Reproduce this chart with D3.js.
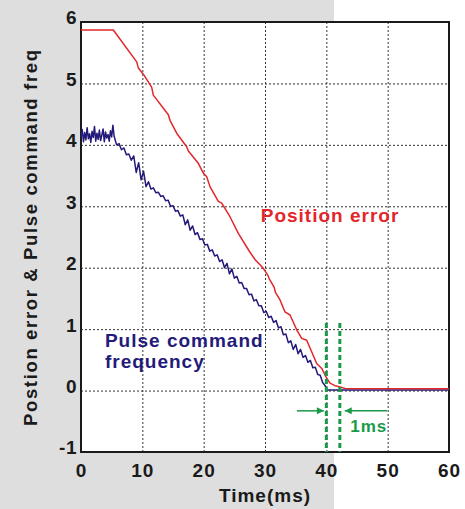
<!DOCTYPE html>
<html><head><meta charset="utf-8">
<script src="https://cdn.jsdelivr.net/npm/d3@7"></script>
<style>
html,body{margin:0;padding:0;background:#fff;}
text{font-family:"Liberation Sans",Arial,sans-serif;font-weight:bold;}
</style></head>
<body>
<svg id="chart" width="465" height="509"></svg>
<script>
// ---- data ----
const xTicks = [0, 10, 20, 30, 40, 50, 60];
const yTicks = [-1, 0, 1, 2, 3, 4, 5, 6];
const xTitle = "Time(ms)";
const yTitle = "Postion error & Pulse command freq";
const seriesNames = ["Position error", "Pulse command", "frequency"];

// Position error (red)
const posT = [0, 5.27, 9.08, 9.35, 10.16, 11.52, 11.79, 14.24, 14.51, 15.6, 17.23, 17.5, 19.13, 19.95, 20.49, 21.03, 22.39, 22.94, 24.29, 25.65, 27.5, 28.4, 29.73, 30.5, 30.7, 31.5, 31.7, 32.45, 33.26, 34.08, 35.17, 35.98, 36.8, 38.43, 39.25, 40.06, 40.6, 41.4, 42.23, 43.05, 60];
const posV = [5.87, 5.87, 5.35, 5.25, 5.15, 4.94, 4.81, 4.49, 4.40, 4.19, 3.97, 3.90, 3.70, 3.54, 3.48, 3.32, 3.08, 3.05, 2.83, 2.56, 2.26, 2.13, 1.99, 1.87, 1.82, 1.68, 1.60, 1.475, 1.28, 1.23, 0.99, 0.85, 0.82, 0.44, 0.36, 0.20, 0.12, 0.08, 0.06, 0.035, 0.03];

// Pulse command frequency (navy)
const pulT = [0, 0.2, 0.4, 0.6, 0.8, 1.0, 1.2, 1.4, 1.6, 1.8, 2.0, 2.2, 2.4, 2.6, 2.8, 3.0, 3.2, 3.4, 3.6, 3.8, 4.0, 4.2, 4.4, 4.6, 4.8, 5.0, 5.2,
  5.4, 5.8, 6.2, 6.6, 7.0, 7.4, 7.8, 8.2, 8.6, 9.0, 9.4, 9.8, 10.2, 10.6, 11.0, 11.4, 11.8, 12.2, 12.6, 13.0, 13.4, 13.8, 14.2, 14.6, 15.0, 15.4, 15.8, 16.2, 16.6, 17.0, 17.4, 17.8, 18.2, 18.6, 19.0, 19.4, 19.8, 20.2, 20.6, 21.0, 21.4, 21.8, 22.2, 22.6, 23.0, 23.4, 23.8, 24.2, 24.6, 25.0, 25.4, 25.8, 26.2, 26.6, 27.0, 27.4, 27.8, 28.2, 28.6, 29.0, 29.4, 29.8, 30.2, 30.6, 31.0, 31.4, 31.8, 32.2, 32.6, 33.0, 33.4, 33.8, 34.2, 34.6, 35.0, 35.4, 35.8, 36.2, 36.6, 37.0, 37.4, 37.8, 38.2, 38.6, 39.0, 39.4, 39.8, 40.1, 60];
const pulV = [4.12, 4.25, 4.05, 4.20, 4.08, 4.28, 4.10, 4.18, 4.04, 4.22, 4.12, 4.30, 4.06, 4.19, 4.09, 4.24, 4.07, 4.16, 4.26, 4.05, 4.21, 4.11, 4.17, 4.06, 4.23, 4.13, 4.32,
  4.14, 4.00, 4.02, 3.92, 3.95, 3.84, 3.85, 3.75, 3.82, 3.55, 3.71, 3.43, 3.57, 3.32, 3.40, 3.28, 3.30, 3.22, 3.23, 3.16, 3.17, 3.09, 3.10, 3.00, 3.01, 2.92, 2.93, 2.84, 2.86, 2.70, 2.78, 2.61, 2.68, 2.54, 2.57, 2.46, 2.47, 2.37, 2.38, 2.27, 2.29, 2.19, 2.21, 2.10, 2.13, 2.00, 2.07, 1.90, 1.98, 1.83, 1.86, 1.75, 1.76, 1.66, 1.66, 1.56, 1.57, 1.46, 1.48, 1.38, 1.38, 1.27, 1.29, 1.19, 1.21, 1.11, 1.14, 1.02, 1.04, 0.91, 0.92, 0.78, 0.81, 0.67, 0.75, 0.60, 0.67, 0.54, 0.57, 0.46, 0.49, 0.37, 0.38, 0.26, 0.25, 0.13, 0.08, 0.01, 0.01];

// annotation markers (ms)
const markerT = [40.0, 42.2];
const markerTop = 1.1;
const annotText = "1ms";

// ---- drawing ----
const svg = d3.select("#chart");
const W = 465, H = 509;
const m = {left: 81, right: 449, top: 22, bottom: 452};

const x = d3.scaleLinear().domain([0, 60]).range([m.left, m.right]);
const y = d3.scaleLinear().domain([-1, 6]).range([m.bottom, m.top]);

// background
svg.append("rect").attr("width", W).attr("height", H).attr("fill", "#fff");
svg.append("rect").attr("x", 0).attr("y", 0).attr("width", 334).attr("height", H).attr("fill", "#dedede");
svg.append("rect").attr("x", m.left).attr("y", m.top).attr("width", m.right - m.left).attr("height", m.bottom - m.top).attr("fill", "#fff");

// grid
const gx = svg.append("g").attr("transform", `translate(0,${m.bottom})`)
  .call(d3.axisBottom(x).tickValues(xTicks.slice(1, -1)).tickSize(-(m.bottom - m.top)).tickFormat(""));
const gy = svg.append("g").attr("transform", `translate(${m.left},0)`)
  .call(d3.axisLeft(y).tickValues(yTicks.slice(1, -1)).tickSize(-(m.right - m.left)).tickFormat(""));
[gx, gy].forEach(g => {
  g.select(".domain").remove();
  g.selectAll("line").attr("stroke", "#333").attr("stroke-width", 1).attr("stroke-dasharray", "2,2");
});

// tick labels via axes
const fmt = d => String(d);
const ax = svg.append("g").attr("transform", `translate(0,${m.bottom})`)
  .call(d3.axisBottom(x).tickValues(xTicks).tickSize(0).tickPadding(0).tickFormat(fmt));
ax.select(".domain").remove();
ax.selectAll("text").attr("dy", null).attr("y", 25).attr("font-size", 19).attr("letter-spacing", 1)
  .attr("fill", "#1a1a1a").style("font-family", "'Liberation Sans',Arial,sans-serif").style("font-weight", "bold");

const ay = svg.append("g").attr("transform", `translate(${m.left},0)`)
  .call(d3.axisLeft(y).tickValues(yTicks).tickSize(0).tickPadding(4).tickFormat(fmt));
ay.select(".domain").remove();
ay.selectAll("text").attr("dy", "0.1em").attr("font-size", 19).attr("letter-spacing", 0.5)
  .attr("fill", "#1a1a1a").style("font-family", "'Liberation Sans',Arial,sans-serif").style("font-weight", "bold");

// frame
svg.append("rect").attr("x", m.left).attr("y", m.top).attr("width", m.right - m.left).attr("height", m.bottom - m.top)
  .attr("fill", "none").attr("stroke", "#1a1a1a").attr("stroke-width", 2);

// lines
const line = d3.line().x(d => x(d[0])).y(d => y(d[1]));
const pul = pulT.map((t, i) => [t, pulV[i]]);
const pos = posT.map((t, i) => [t, posV[i]]);
svg.append("path").datum(pul).attr("d", line).attr("fill", "none").attr("stroke", "#241a7a").attr("stroke-width", 1.5).attr("stroke-linejoin", "round");
svg.append("path").datum(pos).attr("d", line).attr("fill", "none").attr("stroke", "#e3262a").attr("stroke-width", 1.5).attr("stroke-linejoin", "round");

// green markers
const green = "#1a9a48";
markerT.forEach(t => {
  svg.append("line").attr("x1", x(t)).attr("x2", x(t)).attr("y1", y(markerTop)).attr("y2", m.bottom)
    .attr("stroke", green).attr("stroke-width", 3).attr("stroke-dasharray", "5,3");
});
const defs = svg.append("defs");
defs.append("marker").attr("id", "ah").attr("viewBox", "0 0 10 10").attr("refX", 10).attr("refY", 5)
  .attr("markerWidth", 8).attr("markerHeight", 7).attr("markerUnits", "userSpaceOnUse").attr("orient", "auto")
  .append("path").attr("d", "M0,0L10,5L0,10Z").attr("fill", green);
const arrowY = y(-0.33);
svg.append("line").attr("x1", x(35.2)).attr("x2", x(39.6)).attr("y1", arrowY).attr("y2", arrowY)
  .attr("stroke", green).attr("stroke-width", 1.5).attr("marker-end", "url(#ah)");
svg.append("line").attr("x1", x(49.9)).attr("x2", x(43.0)).attr("y1", arrowY).attr("y2", arrowY)
  .attr("stroke", green).attr("stroke-width", 1.5).attr("marker-end", "url(#ah)");
svg.append("text").attr("x", x(43.9)).attr("y", y(-0.68)).attr("font-size", 17).attr("letter-spacing", 1)
  .attr("fill", green).text(annotText);

// series labels
svg.append("text").attr("x", x(29.3)).attr("y", y(2.74)).attr("font-size", 19).attr("letter-spacing", 1)
  .attr("fill", "#e3262a").text(seriesNames[0]);
svg.append("text").attr("x", x(3.9)).attr("y", y(0.71)).attr("font-size", 19).attr("letter-spacing", 1)
  .attr("fill", "#241a7a").text(seriesNames[1]);
svg.append("text").attr("x", x(3.9)).attr("y", y(0.37)).attr("font-size", 19).attr("letter-spacing", 1)
  .attr("fill", "#241a7a").text(seriesNames[2]);

// axis titles
svg.append("text").attr("x", 265).attr("y", 502).attr("text-anchor", "middle").attr("font-size", 19).attr("letter-spacing", 1)
  .attr("fill", "#1a1a1a").text(xTitle);
svg.append("text").attr("transform", "translate(37,426) rotate(-90)").attr("text-anchor", "start")
  .attr("font-size", 18.5).attr("textLength", 376).attr("lengthAdjust", "spacing").attr("fill", "#1a1a1a").text(yTitle);
</script>
</body></html>
